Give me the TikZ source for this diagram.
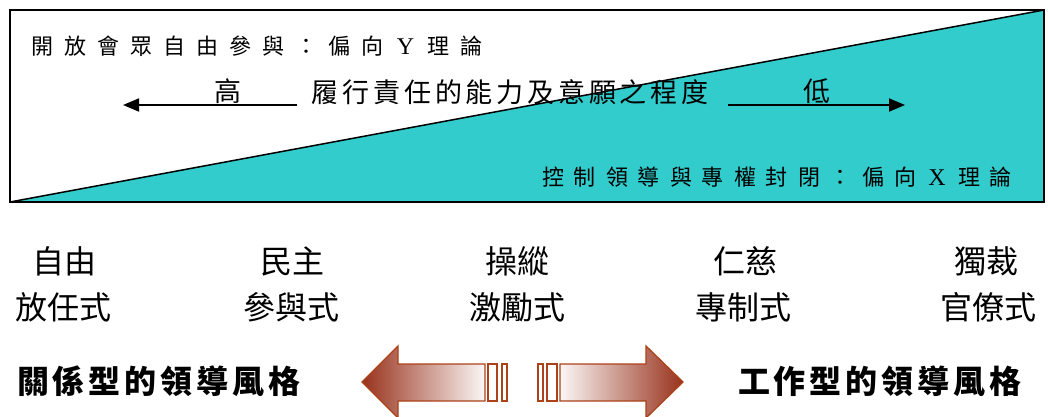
\documentclass[tikz,border=0pt]{standalone}
\usepackage{fontspec}
\newfontfamily\cjk{Noto Sans CJK TC}
\newfontfamily\latinserif{Liberation Serif}
\usetikzlibrary{arrows.meta}
\definecolor{tealfill}{RGB}{51,204,204}
\definecolor{arrdark}{RGB}{152,50,28}
\definecolor{arrline}{RGB}{172,66,24}
\newcommand\spreadtext[2]{\foreach \c in {#2}{\makebox[#1][c]{\c}}}
\begin{document}
\begin{tikzpicture}[x=1pt,y=-1pt,
  txt/.style={inner sep=0pt, outer sep=0pt, font=\cjk},
  small/.style={txt, font=\cjk\fontsize{22pt}{22pt}\selectfont},
  mid/.style={txt, font=\cjk\fontsize{27pt}{27pt}\selectfont},
  kind/.style={txt, font=\cjk\fontsize{32pt}{32pt}\selectfont},
  bold/.style={txt, font=\cjk\bfseries\fontsize{32pt}{32pt}\selectfont},
  levelarrow/.style={line width=1.8pt, -{Triangle[length=16pt,width=13pt]}},
  bigarrow/.style={draw=arrline, line width=1.3pt},
  bar/.style={draw=arrline, line width=1.3pt, fill=white}]
\useasboundingbox (0,0) rectangle (1048,417);
% top box
\fill[tealfill] (10,202) -- (1044,10) -- (1044,202) -- cycle;
\draw[line width=2pt] (10,10) rectangle (1044,202);
\draw[line width=1.5pt] (10,202) -- (1044,10);
% texts in box
\node[small, anchor=west] (ytheory) at (26,46) {\spreadtext{33pt}{開,放,會,眾,自,由,參,與,：,偏,向,{\latinserif\fontsize{24pt}{24pt}\selectfont Y},理,論}};
\node[small, anchor=west] (xtheory) at (537,177) {\spreadtext{32pt}{控,制,領,導,與,專,權,封,閉,：,偏,向,{\latinserif\fontsize{24pt}{24pt}\selectfont X},理,論}};
\node[mid, anchor=west] (degree) at (310,92) {\spreadtext{30.8pt}{履,行,責,任,的,能,力,及,意,願,之,程,度}};
\node[mid] (high) at (228,91) {高};
\node[mid] (low) at (817,91) {低};
\coordinate (hs) at (297,105);
\coordinate (ht) at (123,105);
\coordinate (ls) at (728,105);
\coordinate (lt) at (905,105);
\draw[levelarrow] (hs) -- (ht);
\draw[levelarrow] (ls) -- (lt);
% styles
\node[kind] (a1) at (64,261) {自由};
\node[kind] (a2) at (63,307) {放任式};
\node[kind] (b1) at (292,261) {民主};
\node[kind] (b2) at (291,307) {參與式};
\node[kind] (c1) at (517,261) {操縱};
\node[kind] (c2) at (517,307) {激勵式};
\node[kind] (d1) at (745,261) {仁慈};
\node[kind] (d2) at (743,307) {專制式};
\node[kind] (e1) at (986,261) {獨裁};
\node[kind] (e2) at (988,307) {官僚式};
% bottom labels
\node[bold] (rel) at (159,381) {\spreadtext{36pt}{關,係,型,的,領,導,風,格}};
\node[bold] (task) at (880,381) {\spreadtext{36pt}{工,作,型,的,領,導,風,格}};
% double arrow
\path[bigarrow, left color=arrdark, right color=white!96!arrdark]
  (362,382) -- (398,346) -- (398,364) -- (485,364) -- (485,401) -- (398,401) -- (398,418) -- cycle;
\path[bar] (488,364) rectangle (497,401);
\path[bar] (502,364) rectangle (507,401);
\path[bar] (538,364) rectangle (543,401);
\path[bar] (547,364) rectangle (557,401);
\path[bigarrow, left color=white!96!arrdark, right color=arrdark]
  (560,364) -- (646,364) -- (646,346) -- (683,382) -- (646,418) -- (646,401) -- (560,401) -- cycle;
\end{tikzpicture}
\end{document}
